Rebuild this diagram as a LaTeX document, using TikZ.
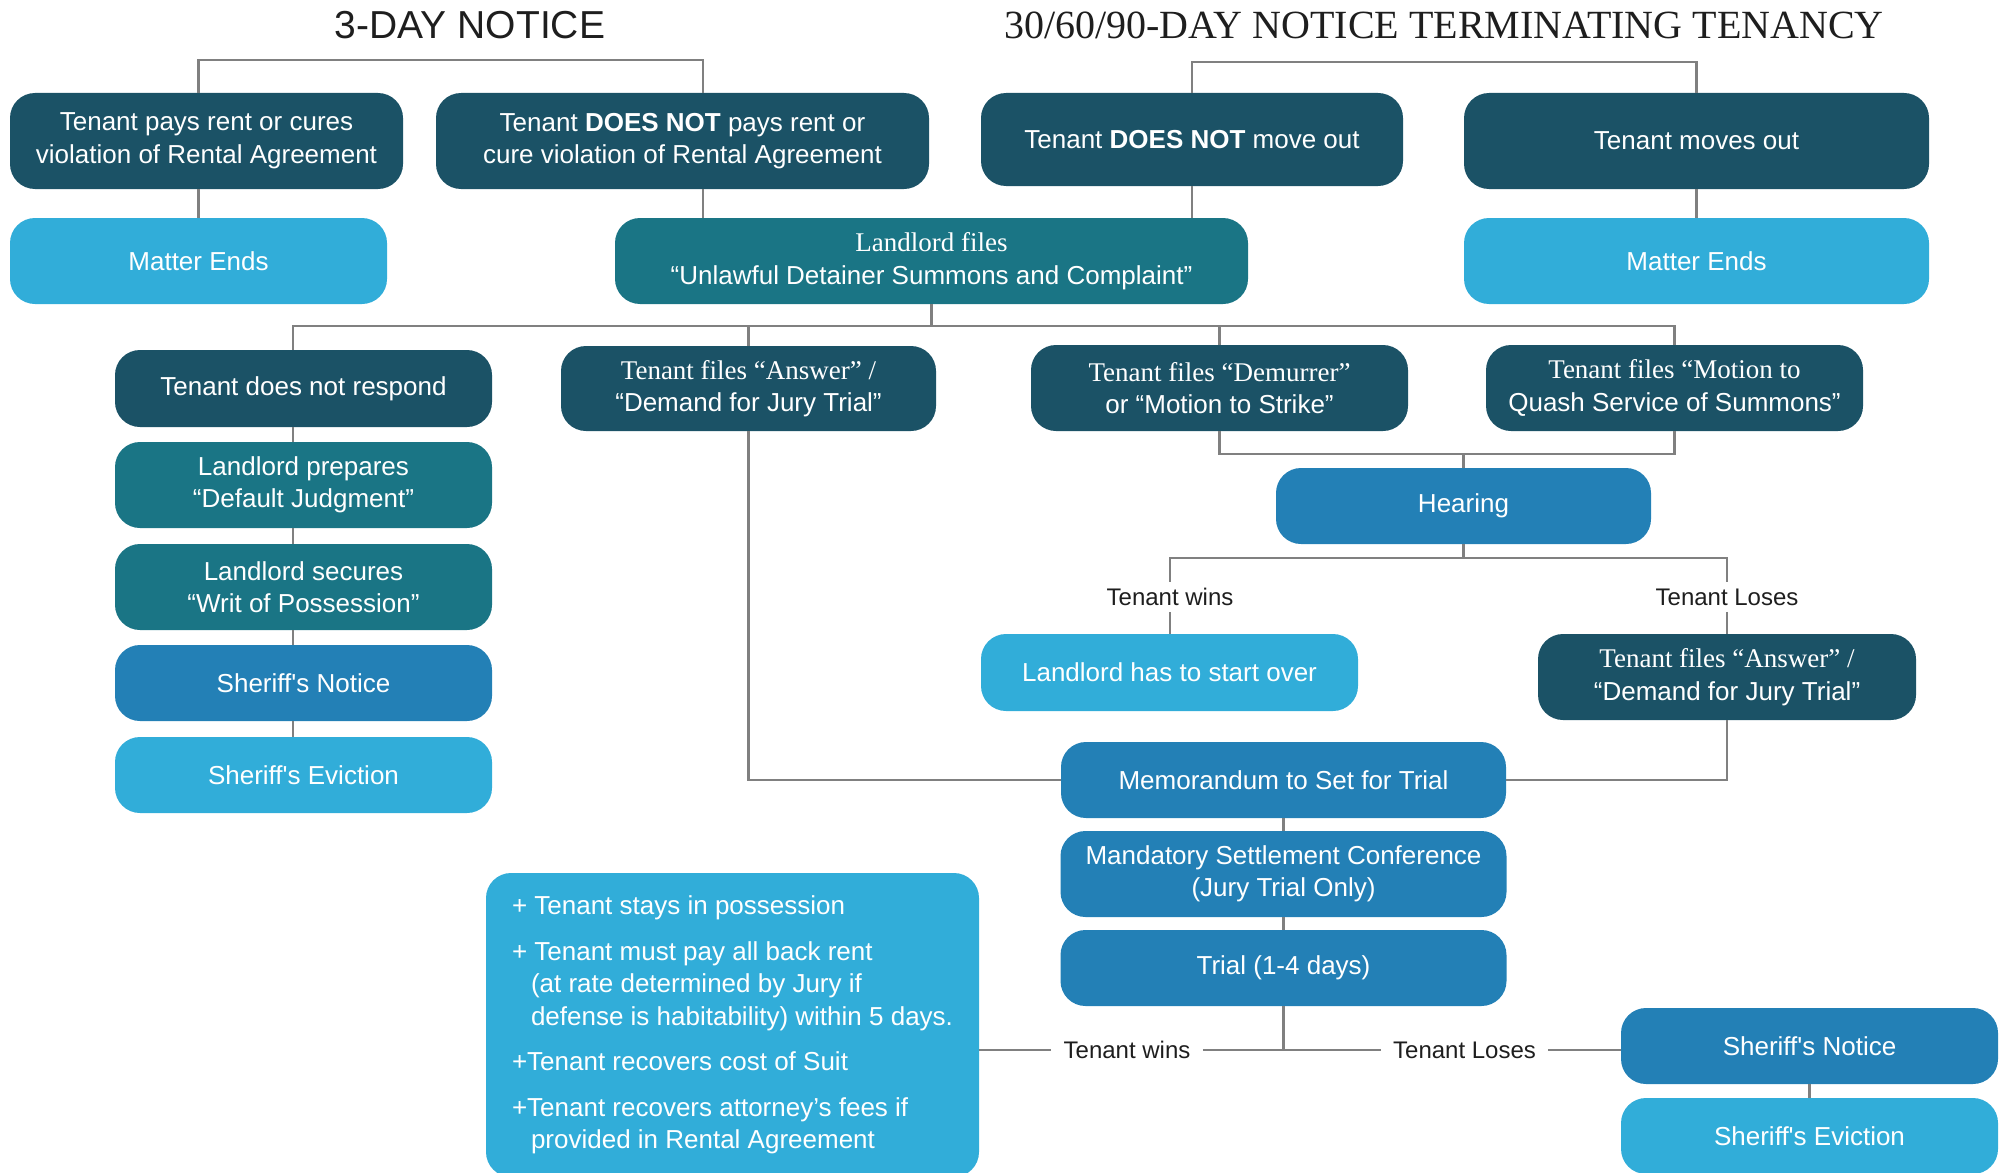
\documentclass[tikz,border=0pt]{standalone}
\usepackage{fontspec}
\setmainfont{Liberation Serif}
\setsansfont{Liberation Sans}
\definecolor{cdark}{RGB}{27,82,102}
\definecolor{cteal}{RGB}{26,117,133}
\definecolor{cmid}{RGB}{35,128,182}
\definecolor{clight}{RGB}{49,173,217}
\definecolor{cline}{RGB}{128,128,128}
\definecolor{ctext}{RGB}{30,30,30}
\newcommand{\serifline}[1]{{\rmfamily\fontsize{13.5}{16.25}\selectfont #1}}
\newcommand{\sq}{\textquotesingle}
\tikzset{
  box/.style={rounded corners=12.5pt, text=white, align=center, inner sep=2pt,
    font=\sffamily\fontsize{13}{16.25}\selectfont},
  sz/.style 2 args={minimum width=#1*0.5pt, minimum height=#2*0.5pt},
  dark/.style={box, fill=cdark},
  tealbox/.style={box, fill=cteal},
  midbox/.style={box, fill=cmid},
  lightbox/.style={box, fill=clight},
  conn/.style={draw=cline, line width=1.4pt},
  lbl/.style={font=\sffamily\fontsize{12}{14}\selectfont, text=ctext, inner xsep=6pt, inner ysep=3pt},
}
\begin{document}
\begin{tikzpicture}[x=0.5pt,y=-0.5pt]
\useasboundingbox (0,0) rectangle (2011,1172);
% titles
\node[font=\sffamily\fontsize{19.5}{22}\selectfont, text=ctext] (t1) at (470,25) {3-DAY NOTICE};
\node[font=\rmfamily\fontsize{20}{22}\selectfont, text=ctext] (t2) at (1444,25) {30/60/90-DAY NOTICE TERMINATING TENANCY};
% top rows
\node[dark, sz={393}{96}] (pay) at (206.5,141) {Tenant pays rent or cures\\violation of Rental Agreement};
\node[dark, sz={493}{96}] (dn) at (682.5,141) {Tenant \textbf{DOES NOT} pays rent or\\cure violation of Rental Agreement};
\node[dark, sz={422}{93}] (dnm) at (1192,139.5) {Tenant \textbf{DOES NOT} move out};
\node[dark, sz={465}{96}] (mo) at (1696.5,141) {Tenant moves out};
\node[lightbox, sz={377}{86}] (me1) at (198.5,261) {Matter Ends};
\node[tealbox, sz={633}{86}] (lf) at (931.5,261) {\serifline{Landlord files}\\``Unlawful Detainer Summons and Complaint''};
\node[lightbox, sz={465}{86}] (me2) at (1696.5,261) {Matter Ends};
% left column
\node[dark, sz={377}{77}] (nr) at (303.5,388.5) {Tenant does not respond};
\node[tealbox, sz={377}{86}] (ldp) at (303.5,485) {Landlord prepares\\``Default Judgment''};
\node[tealbox, sz={377}{86}] (lws) at (303.5,587) {Landlord secures\\``Writ of Possession''};
\node[midbox, sz={377}{76}] (sn1) at (303.5,683) {Sheriff\sq s Notice};
\node[lightbox, sz={377}{76}] (se1) at (303.5,775) {Sheriff\sq s Eviction};
% second row of filings
\node[dark, sz={375}{85}] (ans) at (748.5,388.5) {\serifline{Tenant files ``Answer'' /}\\``Demand for Jury Trial''};
\node[dark, sz={377}{86}] (dem) at (1219.5,388) {\serifline{Tenant files ``Demurrer''}\\or ``Motion to Strike''};
\node[dark, sz={377}{86}] (qs) at (1674.5,388) {\serifline{Tenant files ``Motion to}\\Quash Service of Summons''};
\node[midbox, sz={375}{76}] (hr) at (1463.5,506) {Hearing};
\node[lbl] (lw) at (1170,597) {Tenant wins};
\node[lbl] (ll) at (1727,597) {Tenant Loses};
\node[lightbox, sz={377}{77}] (lso) at (1169.5,672.5) {Landlord has to start over};
\node[dark, sz={378}{86}] (ans2) at (1727,677) {\serifline{Tenant files ``Answer'' /}\\``Demand for Jury Trial''};
\node[midbox, sz={445}{76}] (mem) at (1283.5,780) {Memorandum to Set for Trial};
\node[midbox, sz={446}{86}] (msc) at (1283.5,874) {Mandatory Settlement Conference\\(Jury Trial Only)};
\node[midbox, sz={446}{76}] (tr) at (1283.5,968) {Trial (1-4 days)};
\node[lightbox, sz={493}{304}, align=left] (res) at (732.5,1025) {%
+ Tenant stays in possession\\[6.5pt]
+ Tenant must pay all back rent\\
\hspace*{9.5pt}(at rate determined by Jury if\\
\hspace*{9.5pt}defense is habitability) within 5 days.\\[6.5pt]
+Tenant recovers cost of Suit\\[6.5pt]
+Tenant recovers attorney’s fees if\\
\hspace*{9.5pt}provided in Rental Agreement};
\node[lbl] (lw2) at (1127,1050) {Tenant wins};
\node[lbl] (ll2) at (1464.5,1050) {Tenant Loses};
\node[midbox, sz={377}{76}] (sn2) at (1809.5,1046) {Sheriff\sq s Notice};
\node[lightbox, sz={377}{76}] (se2) at (1809.5,1136) {Sheriff\sq s Eviction};
% connectors: 3-day tree
\coordinate (j2) at (703,60);
\draw[conn] (me1.north |- pay.north) |- (j2) -- (j2 |- dn.north);
\draw[conn] (me1.north |- pay.south) -- (me1.north);
\draw[conn] (j2 |- dn.south) -- (j2 |- lf.north);
% 30/60/90 tree
\coordinate (j3) at (1696.5,62);
\draw[conn] (dnm.north) |- (j3) -- (mo.north);
\draw[conn] (dnm.south) -- (dnm.south |- lf.north);
\draw[conn] (mo.south) -- (me2.north);
% landlord files branches
\coordinate (vl) at (293,326);
\draw[conn] (lf.south) -- (lf.south |- vl);
\draw[conn] (vl |- nr.north) -- (vl) -- (qs.north |- vl) -- (qs.north);
\draw[conn] (ans.north |- vl) -- (ans.north);
\draw[conn] (dem.north |- vl) -- (dem.north);
\draw[conn] (vl |- nr.south) -- (vl |- ldp.north);
\draw[conn] (vl |- ldp.south) -- (vl |- lws.north);
\draw[conn] (vl |- lws.south) -- (vl |- sn1.north);
\draw[conn] (vl |- sn1.south) -- (vl |- se1.north);
% hearing
\coordinate (j5) at (1463.5,454);
\draw[conn] (dem.south) -- (dem.south |- j5) -- (qs.south |- j5) -- (qs.south);
\draw[conn] (hr.north) -- (hr.north |- j5);
\coordinate (j6) at (1463.5,558);
\draw[conn] (hr.south) -- (j6);
\draw[conn] (lw.north) -- (lw.north |- j6) -- (ll.north |- j6) -- (ll.north);
\draw[conn] (lw.south) -- (lw.south |- lso.north);
\draw[conn] (ll.south) -- (ans2.north);
% trial path
\draw[conn] (ans.south) |- (mem.west);
\draw[conn] (ans2.south) |- (mem.east);
\draw[conn] (mem.south) -- (msc.north);
\draw[conn] (msc.south) -- (tr.north);
\draw[conn] (tr.south) -- (tr.south |- lw2.east);
\draw[conn] (res.east |- lw2.west) -- (lw2.west);
\draw[conn] (lw2.east) -- (ll2.west);
\draw[conn] (ll2.east) -- (sn2.west |- ll2.east);
\draw[conn] (sn2.south) -- (se2.north);
\end{tikzpicture}
\end{document}
